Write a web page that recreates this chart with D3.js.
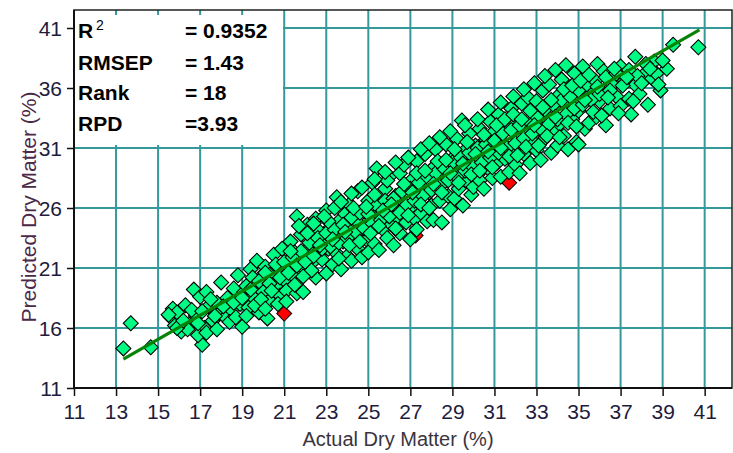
<!DOCTYPE html>
<html><head><meta charset="utf-8">
<script src="https://cdn.jsdelivr.net/npm/d3@7"></script>
<style>
html,body{margin:0;padding:0;background:#fff;}
svg{display:block;}
</style></head>
<body>
<svg id="chart" width="733" height="453"></svg>
<script>
// ---- data ----
const xTicks = [11,13,15,17,19,21,23,25,27,29,31,33,35,37,39,41];
const yTicks = [11,16,21,26,31,36,41];
const statLabels = ["R", "RMSEP", "Rank", "RPD"];
const statValues = ["= 0.9352", "= 1.43", "= 18", "=3.93"];
const xTitle = "Actual Dry Matter (%)";
const yTitle = "Predicted Dry Matter (%)";
// [actual, predicted]
const outliers = [[21.0,17.2],[27.25,23.7],[31.7,28.1]];
const fitLine = [[13.35,13.4],[40.75,40.85]];
const samples = [
[13.35,14.3],[13.7,16.4],[14.65,14.4],
[15.7,17.6],[16.0,16.7],[16.1,15.7],[16.7,19.2],[17.1,14.6],[15.6,16.9],[15.9,17.3],[16.3,17.9],[16.5,16.3],[16.8,17.0],[17.0,18.6],[17.2,16.0],[16.4,15.9],[15.8,16.2],[16.9,15.4],[17.4,17.8],[17.3,19.0],[17.6,16.6],[17.8,18.1],[17.9,17.2],[18.0,19.8],[18.2,16.9],[18.3,18.5],[18.5,17.5],[18.6,19.3],[18.8,20.4],[18.9,18.0],[19.0,16.1],[19.1,19.0],[19.3,17.7],[19.4,20.9],[19.5,18.6],[19.6,19.8],[19.7,21.6],[19.8,17.3],[19.9,20.3],[20.0,19.0],[20.1,21.1],[20.2,16.8],[20.3,18.3],[20.4,20.6],[20.5,22.1],[20.6,19.5],[20.7,21.0],[20.8,18.7],[20.9,22.6],[21.0,20.0],[21.1,19.1],[21.2,21.6],[21.3,23.2],[21.4,20.4],[21.5,22.3],[21.6,25.3],[21.6,18.9],[21.7,21.1],[21.8,23.8],[21.9,19.0],[21.9,22.0],[22.0,20.9],[22.1,24.6],[22.2,22.7],[22.3,21.4],[22.4,23.3],[22.5,20.2],[22.5,25.1],[22.6,22.1],[22.7,24.0],[22.8,21.7],[22.9,23.0],[23.0,20.55],[23.0,25.8],[23.1,22.6],[23.2,24.4],[23.3,21.3],[23.4,23.7],[23.5,26.9],[23.5,22.2],[23.6,24.9],[23.7,20.9],[23.8,23.2],[23.9,25.5],[24.0,22.0],[24.0,24.3],[24.1,26.3],[24.2,21.6],[24.3,23.8],[24.4,25.0],[24.5,22.6],[24.5,27.4],[24.6,24.1],[24.7,21.9],[24.8,25.7],[24.9,23.4],[25.0,26.6],[25.0,22.3],[25.1,24.8],[25.2,28.1],[25.3,23.0],[25.4,29.3],[25.4,25.4],[25.5,22.5],[25.6,26.1],[25.7,24.2],[25.8,27.6],[25.9,23.5],[26.0,25.9],[26.0,28.6],[26.1,24.6],[26.2,22.9],[26.3,27.0],[26.4,25.2],[26.5,28.9],[26.5,23.9],[26.6,26.5],[26.7,29.6],[26.8,24.8],[26.9,27.7],[27.0,23.4],[27.0,26.0],[27.1,28.4],[27.2,25.1],[27.3,24.2],[27.3,29.9],[27.4,26.9],[27.5,25.6],[27.6,28.0],[27.7,30.5],[27.8,24.9],[27.9,27.3],[28.0,29.2],[28.0,26.2],[28.1,25.0],[28.2,30.9],[28.3,27.9],[28.4,26.6],[28.5,29.6],[28.5,24.8],[28.6,28.4],[28.7,31.3],[28.8,27.0],[28.9,25.9],[29.0,30.1],[29.0,28.7],[29.1,26.8],[29.2,31.8],[29.3,27.6],[29.45,33.3],[29.4,29.4],[29.5,26.2],[29.6,30.8],[29.7,28.2],[29.8,32.2],[29.9,27.1],[30.0,27.75],[30.0,29.9],[30.1,31.2],[30.2,28.8],[30.3,28.3],[30.3,32.6],[30.4,30.4],[30.5,27.6],[30.6,31.7],[30.7,29.3],[30.8,33.2],[30.9,28.5],[31.0,30.8],[31.0,32.4],[31.1,29.7],[31.2,33.8],[31.3,28.6],[31.4,31.4],[31.5,30.1],[31.6,32.9],[31.7,29.0],[31.8,34.3],[31.9,31.0],[32.0,29.6],[32.0,33.1],[32.1,31.8],[32.2,28.9],[32.3,34.7],[32.4,30.5],[32.5,32.4],[32.6,35.2],[32.7,29.75],[32.8,31.6],[32.9,33.7],[33.0,30.8],[33.0,34.9],[33.1,32.6],[33.2,30.0],[33.3,35.8],[33.4,31.8],[33.5,33.4],[33.6,36.3],[33.7,30.6],[33.8,34.4],[33.9,32.3],[34.0,35.3],[34.0,31.2],[34.1,33.0],[34.2,36.7],[34.3,32.0],[34.4,34.6],[34.5,30.9],[34.6,35.7],[34.7,33.4],[34.8,37.2],[34.9,31.5],[35.0,31.3],[35.0,34.1],[35.2,37.8],[35.3,32.6],[35.5,33.1],[35.6,35.6],[35.85,33.6],[35.9,38.0],[36.0,34.9],[36.2,37.4],[36.3,32.9],[36.5,34.3],[36.6,36.3],[36.8,35.3],[37.0,37.8],[37.0,34.5],[37.2,36.6],[37.4,35.1],[37.5,33.8],[37.7,38.6],[37.7,36.25],[37.9,35.5],[38.1,37.1],[38.3,34.6],[38.5,36.8],[38.6,38.2],[38.7,37.2],[38.9,35.8],[39.2,37.6],[39.5,39.6],[40.7,39.4],
[19.2,19.5],[19.5,20.2],[19.8,19.9],[20.1,20.6],[20.3,19.7],[20.6,21.3],[20.8,20.2],[21.0,21.5],[21.2,20.6],[21.4,21.9],[21.6,21.2],[21.8,22.4],[22.0,21.5],[22.2,23.1],[22.4,22.0],[22.6,23.5],[22.8,22.6],[23.0,23.9],[23.2,22.8],[23.4,24.2],[23.6,23.1],[23.8,24.6],[24.0,23.5],[24.2,25.2],[24.4,24.0],[24.6,25.6],[24.8,24.3],[25.0,25.5],[25.2,24.7],[25.4,26.2],[25.6,25.0],[25.8,26.6],[26.0,25.3],[26.2,26.8],[26.4,26.0],[26.6,27.4],[26.8,26.2],[27.0,27.6],[27.2,26.6],[27.4,28.1],[27.6,27.0],[27.8,28.6],[28.0,27.5],[28.2,28.9],[28.4,27.8],[28.6,29.3],[28.8,28.3],[29.0,29.8],[29.2,28.6],[29.4,30.2],[29.6,29.1],[29.8,30.6],[30.0,29.4],[30.2,31.0],[30.4,29.8],[30.6,31.3],[30.8,30.2],[31.0,31.6],[31.2,30.6],[31.4,32.2],[31.6,31.0],[31.8,32.5],[32.0,31.4],[32.2,32.9],[32.4,31.8],[32.6,33.3],[32.8,32.2],[33.0,33.6],[33.2,32.6],[33.4,34.2],[33.6,33.0],[33.8,34.6],[34.0,33.4],[34.2,35.0],[34.4,33.8],[34.6,35.3],[34.8,34.3],[35.0,35.8],[35.2,34.6],[35.4,36.3],[35.6,35.0],[35.8,36.6],[36.0,35.5],[36.3,36.9],[36.5,35.8],[36.8,37.2],[37.1,36.2],[37.4,37.5],[37.8,37.0],[38.2,38.0],
[22.1,23.9],[22.3,20.8],[22.7,22.9],[23.1,24.9],[23.3,23.4],[23.6,21.8],[23.9,24.0],[24.1,22.9],[24.3,26.0],[24.6,23.2],[24.9,26.1],[25.1,23.9],[25.3,27.1],[25.5,24.5],[25.7,25.8],[25.9,28.3],[26.1,26.3],[26.3,24.3],[26.5,25.6],[26.7,28.0],[26.9,25.4],[27.1,27.3],[27.3,28.9],[27.5,26.3],[27.7,29.1],[27.9,26.0],[28.1,28.0],[28.3,29.9],[28.5,27.3],[28.7,30.0],[28.9,28.9],[29.1,30.9],[29.3,28.1],[29.5,29.7],[29.7,31.5],[29.9,28.8],[30.1,30.5],[30.3,29.1],[30.5,32.1],[30.7,30.7],[30.9,29.4],[31.1,32.9],[31.3,31.0],[31.5,33.4],[31.7,30.3],[31.9,33.8],[32.1,30.4],[32.3,33.4],[32.5,31.1],[32.7,34.1],[32.9,32.9],[33.1,31.2],[33.3,34.4],[33.5,32.0],[33.7,35.0],[33.9,33.6],[34.1,31.9],[34.3,35.9],[34.5,33.1],[34.7,36.2],[34.9,32.8],[35.1,36.6],[35.3,35.0],[35.5,37.1],[35.7,34.0],[35.9,36.1],[36.1,33.7],[36.4,35.2],[36.7,37.6],[36.9,33.9],[37.3,36.9],[37.6,34.9],[38.0,36.4],[38.4,37.6],[38.8,36.3],[39.0,38.3],
[15.5,17.1],[15.9,16.0],[16.2,16.6],[16.6,17.5],[16.9,16.4],[17.1,17.4],[17.3,15.6],[17.5,18.4],[17.7,17.0],[17.8,15.9],[18.1,17.8],[18.4,16.5],[18.6,18.1],[18.7,16.9],[19.0,18.5],[19.2,17.0],[19.4,19.2],[19.6,17.9],[19.9,18.4],[20.1,17.6],[20.4,19.1],[20.7,18.0],[21.1,18.2],[21.3,22.4],[21.5,19.6],[21.7,24.5],[21.9,20.3],[22.4,24.7],[22.9,25.3],[23.4,26.0],[23.7,26.5],[24.2,27.2],[24.7,27.7],[25.3,28.4],[25.8,29.0],[26.3,29.8],[26.9,30.2],[27.5,30.9],[27.9,31.4],[28.4,31.9],[28.9,32.4],[29.6,32.9],[30.2,33.4],[30.7,34.2],[31.3,34.8],[31.9,35.3],[32.4,35.9],[32.9,36.4],[33.4,37.0],[33.9,37.5],[34.4,37.9]
];

// ---- drawing ----
const svg = d3.select("#chart");
const L = 74, R = 732, T = 10, B = 388;
const x = d3.scaleLinear().domain([11, 42.3]).range([L, R]);
const y = d3.scaleLinear().domain([11, 42.5]).range([B, T]);
const gridColor = "#35999b";
const tickFont = "'Liberation Sans Narrow','Arial Narrow',sans-serif";

svg.append("rect").attr("x",0).attr("y",0).attr("width",733).attr("height",453).attr("fill","#fff");

// grid
const grid = svg.append("g");
grid.selectAll("line.v").data(xTicks.filter(d => d > 11)).join("line")
  .attr("x1", d => x(d)).attr("x2", d => x(d)).attr("y1", T).attr("y2", B)
  .attr("stroke", gridColor).attr("stroke-width", 2);
grid.selectAll("line.h").data(yTicks.filter(d => d > 11)).join("line")
  .attr("x1", L).attr("x2", R).attr("y1", d => y(d)).attr("y2", d => y(d))
  .attr("stroke", gridColor).attr("stroke-width", 2);

// frame
svg.append("rect").attr("x", L).attr("y", T).attr("width", R - L).attr("height", B - T)
  .attr("fill", "none").attr("stroke", "#222").attr("stroke-width", 1.5);

// legend box (white, covers grid)
svg.append("rect").attr("x", L + 1).attr("y", 15).attr("width", 208).attr("height", 130).attr("fill", "#fff");

// points
const diamond = d3.symbol().type(d3.symbolSquare).size(112);
const pts = svg.append("g");
pts.selectAll("path.out").data(outliers).join("path")
  .attr("d", diamond)
  .attr("transform", d => `translate(${x(d[0])},${y(d[1])}) rotate(45)`)
  .attr("fill", "#ff0000").attr("stroke", "#000").attr("stroke-width", 1);
pts.selectAll("path.pt").data(samples).join("path")
  .attr("d", diamond)
  .attr("transform", d => `translate(${x(d[0])},${y(d[1])}) rotate(45)`)
  .attr("fill", "#00fb84").attr("stroke", "#000").attr("stroke-width", 1.1);

// fit line
svg.append("path").datum(fitLine)
  .attr("d", d3.line().x(d => x(d[0])).y(d => y(d[1])))
  .attr("fill", "none").attr("stroke", "#078307").attr("stroke-width", 3.2);

// axes
const xAxis = svg.append("g").attr("transform", `translate(0,${B})`)
  .call(d3.axisBottom(x).tickValues(xTicks).tickSize(8).tickSizeOuter(0).tickPadding(10));
const yAxis = svg.append("g").attr("transform", `translate(${L},0)`)
  .call(d3.axisLeft(y).tickValues(yTicks).tickSize(7).tickSizeOuter(0).tickPadding(5));
[xAxis, yAxis].forEach(g => {
  g.select(".domain").attr("stroke", "#111").attr("stroke-width", 2);
  g.selectAll(".tick line").attr("stroke", "#111").attr("stroke-width", 1.5);
  g.selectAll(".tick text").attr("font-family", tickFont).attr("font-size", 21)
    .attr("fill", "#1e1b3c");
});
xAxis.selectAll(".tick text").attr("dy", "0.62em");
yAxis.selectAll(".tick text").attr("dy", "0.35em");
xAxis.select(".domain").attr("d", `M${L},0H${R}`);
yAxis.select(".domain").attr("d", `M0,${T}V${B}`);

// axis titles
svg.append("text").attr("x", 398).attr("y", 446).attr("text-anchor", "middle")
  .attr("font-family", tickFont).attr("font-size", 20).attr("fill", "#3a3440").text(xTitle);
svg.append("text").attr("transform", "translate(36,207) rotate(-90)").attr("text-anchor", "middle")
  .attr("font-family", "'Liberation Sans',Arial,sans-serif").attr("font-size", 21)
  .attr("fill", "#4a2a48").text(yTitle);

// stats legend
const baselines = [37.5, 70, 100, 130.5];
const lg = svg.append("g").attr("font-family", "'Liberation Sans',Arial,sans-serif")
  .attr("font-weight", "bold").attr("font-size", 21).attr("fill", "#000");
lg.selectAll("text.lab").data(statLabels).join("text")
  .attr("x", 78).attr("y", (d, i) => baselines[i]).text(d => d);
lg.selectAll("text.val").data(statValues).join("text")
  .attr("x", 185).attr("y", (d, i) => baselines[i]).text(d => d);
lg.append("text").attr("x", 96).attr("y", 30).attr("font-size", 14).attr("font-weight", "normal").text("2");
</script>
</body></html>
